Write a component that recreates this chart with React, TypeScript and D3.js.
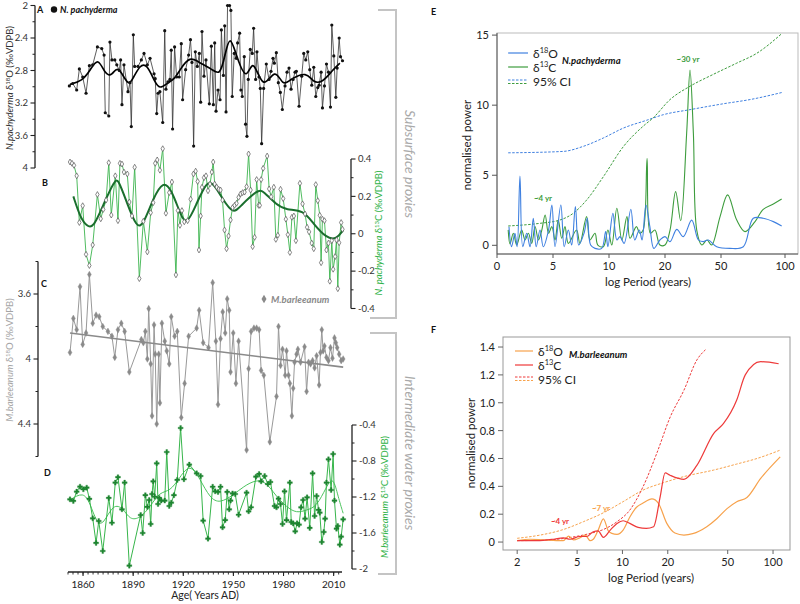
import * as d3 from "d3";

type Pt = [number, number];

// ---- left stack: time series (year, value) ----
const pachyO18: Pt[] = [
  [1851.8,2.99],[1853.8,2.96],[1856.2,3.04],[1857.8,2.78],[1859.8,2.88],[1861.8,3.08],[1863.8,2.74],[1865.8,2.73],[1868.6,2.51],[1871.2,2.53],
  [1872.6,2.61],[1873.3,3.32],[1875.4,3.36],[1876.1,2.45],[1877.3,2.67],[1879,2.67],[1880.2,2.73],[1881.7,2.8],[1882.5,2.67],[1883.3,3.22],
  [1884.5,2.73],[1886.9,3.06],[1888.1,2.95],[1888.9,3.49],[1890.1,2.36],[1890.9,2.75],[1892.9,2.75],[1894.9,2.67],[1896.5,2.59],[1898.5,2.73],
  [1900.1,2.65],[1902.5,2.84],[1903.2,2.9],[1904.1,3.33],[1904.9,3.08],[1906,3.06],[1907.7,3.44],[1908.9,2.31],[1909.6,3.03],[1910.8,2.94],
  [1912,2.91],[1912.8,2.55],[1913.6,3.52],[1914.8,2.51],[1916,2.88],[1917.6,2.88],[1918.8,2.47],[1919.6,3.16],[1921.4,2.79],[1923.2,2.61],
  [1924.3,2.42],[1925.2,2.7],[1926.2,3.73],[1927.2,2.57],[1928.4,2.75],[1929.6,2.59],[1930.4,3.19],[1931.2,2.32],[1932.4,2.87],[1933.6,2.67],
  [1935.6,3.21],[1936.8,2.5],[1938,3.22],[1938.8,2.46],[1939.6,3.3],[1940.8,3.04],[1942,3.16],[1942.8,2.3],[1944,2.86],[1944.8,2.25],
  [1945.6,3.31],[1946.5,2.0],[1947.7,2.0],[1948.5,2.06],[1949.3,3.12],[1950.5,2.59],[1951.7,2.65],[1952.5,2.46],[1953.7,2.34],[1954.5,3.04],
  [1955.3,3.12],[1956.5,2.63],[1957.3,3.46],[1958.1,3.61],[1958.9,2.91],[1960.1,2.54],[1961.3,2.59],[1962.1,2.28],[1963.3,2.91],[1964.1,2.57],
  [1965.3,2.88],[1966.1,3.02],[1966.9,3.7],[1968.1,3.02],[1969.7,2.72],[1971.3,2.91],[1972.5,2.81],[1973.7,2.65],[1974.5,2.71],[1975.7,2.58],
  [1976.9,2.95],[1978.1,3.07],[1979.3,3.28],[1980.9,2.99],[1982.1,2.82],[1983.3,2.77],[1984.5,3.03],[1985.7,2.91],[1986.9,2.82],[1987.7,2.81],
  [1989.3,3.24],[1990.9,2.87],[1992.1,2.59],[1993.3,2.67],[1994.5,2.57],[1995.7,2.79],[1996.9,2.98],[1998.1,2.76],[1999.3,3.12],[2000.5,3.01],
  [2001.3,2.98],[2002.5,2.82],[2003.3,3.26],[2004.5,2.99],[2005.7,2.72],[2006.9,2.82],[2008.1,3.25],[2008.9,2.24],[2010.1,2.62],[2011.3,3.13],
  [2012.1,2.77],[2013.3,2.4],[2014.1,2.63],[2015.3,2.68],
];
const pachyO18Smooth: Pt[] = [
  [1852.2,2.97],[1859.4,2.93],[1864.2,2.8],[1869,2.63],[1873.2,2.85],[1877.3,2.87],[1880.9,2.72],[1886.9,3.0],[1889.9,2.9],[1894.1,2.73],
  [1898.3,2.72],[1903.1,2.95],[1906,3.03],[1910.8,2.95],[1915,2.9],[1918,2.79],[1924,2.62],[1930,2.71],[1937.1,2.78],[1941.9,2.87],
  [1944.9,2.62],[1947.9,2.34],[1951.9,2.63],[1957.9,2.95],[1961.7,2.61],[1967.7,3.07],[1974.9,2.75],[1979.6,3.0],[1983.8,2.91],[1994,2.81],
  [1997.5,2.95],[2003.5,2.95],[2009.5,2.79],[2013.7,2.71],
];
const pachyC13: Pt[] = [
  [1852.2,0.384],[1853.4,0.377],[1854.6,0.366],[1856.2,0.31],[1857.8,0.06],[1859.8,0.15],[1861.8,-0.11],[1863.8,-0.17],[1865.8,-0.06],[1868.6,0.21],
  [1870.6,0.08],[1872.1,0.13],[1873.8,0.18],[1875.4,0.38],[1876.9,0.1],[1879.3,0.31],[1880.9,0.07],[1882.1,0.377],[1883.3,0.373],[1884.5,0.33],
  [1886.5,0.32],[1887.7,0.17],[1889.3,0.095],[1890.9,0.356],[1893.7,-0.24],[1896.1,0.067],[1898.5,-0.097],[1900.5,0.113],[1902,0.166],[1903.2,0.377],
  [1904.4,0.395],[1906,0.34],[1907.7,0.455],[1909.6,0.11],[1911.6,0.22],[1913.2,0.277],[1915.6,-0.22],[1916.8,0.124],[1918,0.045],[1919.2,0.124],
  [1920.6,0.064],[1922.6,0.07],[1924.4,0.185],[1926.1,0.32],[1927.4,0.335],[1928.6,0.28],[1929.4,-0.087],[1930.4,0.095],[1931.2,0.249],[1932.4,0.3],
  [1933.6,0.31],[1934.8,0.23],[1936,0.266],[1937.1,0.33],[1937.9,0.384],[1938.8,0.266],[1940,0.25],[1941.2,0.238],[1942.3,0.234],[1943.5,0.18],
  [1944.7,0.02],[1945.9,-0.08],[1947.1,-0.012],[1948.3,0.074],[1949.5,0.14],[1950.7,0.152],[1951.9,0.163],[1953.1,0.195],[1954.3,0.213],[1955.5,0.22],
  [1956.7,0.223],[1957.9,0.252],[1959.1,0.427],[1960.3,0.234],[1961.5,-0.069],[1962.7,-0.019],[1963.9,0.29],[1965.1,0.152],[1965.8,0.152],[1966.6,0.29],
  [1967.8,0.35],[1970.2,0.416],[1971.4,0.24],[1972.6,0.198],[1974.2,0.249],[1975.4,-0.03],[1976.6,-0.008],[1978.2,0.238],[1979.8,0.188],[1981.4,0.078],
  [1982.6,-0.005],[1983.8,-0.1],[1985,0.088],[1986.2,0.095],[1987.4,-0.037],[1989.8,0.27],[1991.4,0.16],[1992.9,0.106],[1994.1,0.035],[1995.3,0.01],
  [1996.9,-0.05],[1998.1,-0.08],[1999.3,0.263],[2000.5,0.177],[2001.7,0.099],[2002.5,-0.155],[2003.3,0.078],[2004.5,0.07],[2005.7,-0.087],[2006.9,-0.05],
  [2007.7,-0.254],[2008.9,-0.037],[2009.7,-0.19],[2010.9,-0.122],[2011.7,-0.033],[2012.5,-0.294],[2013.3,-0.048],[2014.5,0.06],[2015.3,0.024],
];
const pachyC13Smooth: Pt[] = [
  [1854.2,0.2],[1858.2,0.09],[1862.2,0.04],[1866.2,0.03],[1872.1,0.155],[1879.1,0.29],[1881.1,0.29],[1886.1,0.17],[1892.1,0.03],[1896.1,0.047],
  [1902,0.19],[1908,0.284],[1913,0.234],[1918,0.11],[1922,0.04],[1928,0.163],[1934,0.28],[1937.9,0.273],[1943.9,0.18],[1949.9,0.106],
  [1953.9,0.145],[1964.8,0.238],[1967.8,0.23],[1975.8,0.154],[1981.8,0.127],[1991.7,0.127],[1997.7,0.056],[2005.7,-0.024],[2011.7,-0.03],[2015.7,0.02],
];
const barlO18: Pt[] = [
  [1852.2,3.96],[1854.2,3.75],[1856.2,3.82],[1858.2,3.555],[1859.8,3.91],[1861.8,3.84],[1863.8,3.48],[1865.8,3.78],[1867.8,3.73],[1869.7,3.74],
  [1871.8,3.8],[1874.9,3.83],[1877.3,3.86],[1879,3.99],[1880.9,3.82],[1882.9,3.78],[1884.9,3.83],[1887.7,4.08],[1894.9,3.88],[1896.1,3.9],
  [1897.3,3.83],[1898.5,4.0],[1899.3,3.69],[1900.5,4.03],[1901.3,4.35],[1902.5,3.79],[1903.2,3.97],[1904.1,4.4],[1905.3,3.97],[1906,4.27],
  [1907.2,3.78],[1908.9,3.89],[1910.1,3.95],[1911.6,4.03],[1912.8,3.74],[1914.8,3.86],[1916.4,3.83],[1918.8,4.36],[1920.8,4.15],[1923.2,3.86],
  [1928,3.81],[1929.5,3.7],[1931.9,3.9],[1935.1,3.93],[1937.6,3.53],[1939.5,3.89],[1940.8,4.28],[1942.3,3.875],[1943.6,3.71],[1945.1,3.84],
  [1946.3,3.63],[1947.5,3.7],[1948.3,4.08],[1949.9,3.84],[1951.5,4.15],[1953.1,3.89],[1957.9,4.56],[1959.1,4.06],[1960.6,3.83],[1962.3,3.81],
  [1963.9,3.81],[1965.4,3.82],[1966.6,4.07],[1968.2,4.1],[1971.8,4.51],[1975.8,4.23],[1977,3.8],[1978.2,4.04],[1979.4,3.94],[1981,4.1],
  [1981.8,3.95],[1983,4.1],[1983.8,4.15],[1985,4.35],[1985.8,4.18],[1986.6,4.02],[1987.8,3.97],[1988.6,3.94],[1990.2,4.02],[1992.6,3.925],
  [1993.8,4.2],[1995,4.02],[1996.2,4.03],[1997.4,4.01],[1998.6,4.055],[1999.8,3.98],[2001.3,4.16],[2002.1,3.96],[2002.9,3.82],[2003.7,3.95],
  [2004.5,3.92],[2005.7,3.99],[2006.9,4.01],[2008.1,3.93],[2009.3,3.995],[2010.5,3.87],[2011.3,3.9],[2012.1,3.93],[2013.3,3.97],[2014.5,4.01],
  [2015.7,4.0],
];
const barlO18Trend: Pt[] = [[1852.2,3.84],[2015.7,4.05]];
const barlC13: Pt[] = [
  [1852.2,-1.226],[1854.2,-1.244],[1856.2,-1.14],[1858.2,-1.085],[1860.2,-1.114],[1862.2,-1.096],[1863.8,-1.22],[1865.8,-1.437],[1867.8,-1.71],[1869.4,-1.467],
  [1871.8,-1.8],[1875.4,-1.21],[1877.3,-1.486],[1879.3,-1.04],[1880.9,-0.98],[1883.3,-1.337],[1884.9,-1.04],[1887.7,-1.963],[1894.5,-1.4],[1895.7,-1.6],
  [1897.3,-1.18],[1898.5,-1.31],[1899.6,-1.233],[1900.5,-1.5],[1901.3,-1.167],[1902,-1.026],[1902.9,-1.197],[1904.1,-0.826],[1904.9,-1.278],[1905.6,-1.21],
  [1906.8,-1.24],[1908.9,-1.24],[1910.1,-0.7],[1911.6,-1.3],[1912.8,-1.263],[1914.4,-1.18],[1916.4,-1.01],[1918.4,-0.433],[1920.4,-1.003],[1923.6,-0.84],
  [1928,-0.937],[1930.4,-0.967],[1931.9,-1.463],[1934.8,-1.663],[1937.6,-1.086],[1939.1,-1.137],[1940.8,-1.144],[1942.3,-1.086],[1943.5,-1.537],[1945.1,-1.456],
  [1946.3,-1.144],[1947.5,-1.337],[1948.3,-1.24],[1949.5,-1.16],[1951.1,-1.167],[1953.1,-1.397],[1957.9,-1.152],[1959.1,-1.359],[1960.6,-1.314],[1963.5,-0.974],
  [1965.4,-0.944],[1966.6,-1.026],[1968.7,-0.967],[1970.6,-1.056],[1972.2,-1.033],[1974.6,-1.3],[1975.8,-1.315],[1977,-1.219],[1978.2,-1.278],[1979.4,-1.5],
  [1980.6,-1.137],[1981.8,-1.456],[1983.8,-1.04],[1984.6,-1.478],[1985.8,-1.493],[1987,-1.581],[1988.1,-1.493],[1989.3,-1.507],[1990.5,-1.315],[1991.7,-1.233],
  [1992.9,-1.441],[1994.1,-1.204],[1995.7,-1.544],[1997.4,-0.937],[1998.6,-1.411],[1999.8,-1.189],[2001,-1.344],[2001.7,-1.374],[2002.9,-1.7],[2004.1,-1.589],
  [2004.9,-1.441],[2005.7,-1.04],[2006.9,-0.781],[2008.5,-1.122],[2009.7,-0.722],[2010.5,-1.24],[2011.7,-1.552],[2012.5,-1.522],[2013.7,-1.73],[2014.5,-1.641],
  [2015.7,-1.448],
];
const barlC13Smooth: Pt[] = [
  [1852.2,-1.233],[1860.2,-1.14],[1864.2,-1.27],[1868.2,-1.49],[1872.1,-1.51],[1878.1,-1.27],[1884.1,-1.326],[1888.1,-1.456],[1894.1,-1.437],[1900.1,-1.31],
  [1906,-1.14],[1912,-1.14],[1918,-0.98],[1924,-0.826],[1930,-1.0],[1936,-1.215],[1941.9,-1.27],[1949.9,-1.178],[1955.9,-1.085],[1963.9,-1.003],
  [1969.9,-1.04],[1975.8,-1.197],[1981.8,-1.31],[1987.8,-1.381],[1993.8,-1.344],[1999.8,-1.31],[2005.7,-1.085],[2009.7,-0.967],[2012.7,-1.2],[2015.7,-1.381],
];

// ---- right panels: spectra (period, power) ----
const ePachyO18: Pt[] = [
  [1.07,1.33],[1.3,-0.1],[1.6,0.86],[1.8,-0.1],[2.05,4.95],[2.3,-0.1],[2.65,0.86],[2.95,-0.1],[3.24,1.93],[3.5,-0.1],
  [3.84,1.09],[4.13,-0.1],[4.6,1.09],[4.9,2.88],[5.18,-0.1],[5.7,2.88],[6.0,-0.1],[6.37,1.09],[6.67,0.02],[7.0,2.76],
  [7.3,0.02],[7.77,0.86],[8.06,1.93],[8.36,0.02],[8.75,-0.22],[9.35,-0.22],[9.7,0.98],[9.9,-0.1],[10.7,2.28],[11.4,0.38],
  [11.96,0.62],[12.7,0.14],[13.9,2.57],[14.6,0.38],[15.4,1.09],[15.9,0.38],[16.6,2.88],[17.3,1.33],[18.0,-0.22],[19.1,0.38],
  [20,0.62],[22.7,0.26],[26.3,1.14],[29.8,0.62],[34.3,1.8],[37.9,0.38],[40.5,0.26],[43.2,0.38],[47.7,-0.1],[57,-0.22],
  [67.4,-0.1],[75.2,1.93],[83,1.93],[90.9,1.69],[97.4,1.38],
];
const ePachyC13: Pt[] = [
  [1.0,1.1],[1.16,0.1],[1.46,0.86],[1.76,0.02],[2.2,1.09],[2.5,0.38],[2.8,0.86],[3.1,0.14],[3.4,1.33],[3.7,0.38],
  [4.0,1.09],[4.3,2.16],[4.6,0.86],[4.9,1.33],[5.18,0.38],[5.47,1.8],[5.78,0.5],[6.07,1.33],[6.37,0.14],[7.1,1.09],
  [7.4,0.14],[8.0,2.05],[8.3,0.38],[8.75,0.86],[9.0,0.02],[9.5,-0.1],[9.9,1.09],[10.5,0.02],[11.4,2.64],[12.3,0.38],
  [13.2,2.05],[13.75,0.5],[14.9,1.33],[15.5,0.86],[16.1,1.09],[16.8,6.2],[17.4,0.86],[18.2,1.09],[19.1,0.02],[20,0.02],
  [22.7,1.09],[25.7,3.83],[28.4,1.75],[31.6,8.0],[33.4,12.5],[35.2,8.0],[37,1.09],[39.7,0.02],[42.5,0.38],[45,0.02],
  [49.5,2.05],[55.2,3.6],[62.3,1.8],[68.8,0.98],[76.6,1.69],[83,2.57],[90.9,2.95],[97.4,3.3],
];
const ePachyO18CI: Pt[] = [
  [1.0,6.6],[5.9,6.7],[7.7,7.06],[9.5,7.66],[12.6,8.37],[16.7,8.92],[19.7,9.32],[33.4,9.68],[51.8,10.1],[72.7,10.4],[97.4,10.9],
];
const ePachyC13CI: Pt[] = [
  [1.0,1.38],[3.84,1.57],[5.6,1.8],[6.8,2.28],[8.0,3.23],[9.5,4.9],[12.6,7.06],[16.1,8.5],[17.9,9.1],[22.7,10.4],
  [33.4,11.35],[45.9,12.2],[62.3,13.0],[77.9,13.7],[97.4,15.1],
];
const fBarlO18: Pt[] = [
  [2.0,0.01],[2.44,0.02],[2.99,0.015],[3.66,0.01],[4.05,0.01],[4.38,0.043],[4.74,0.015],[5.2,0.03],[5.66,0.05],[6.1,0.01],
  [6.4,0.02],[6.9,0.086],[7.47,0.167],[8.06,0.08],[8.5,0.062],[9.2,0.055],[10.1,0.086],[11.2,0.18],[12.4,0.25],[13.7,0.28],
  [15.7,0.31],[17.3,0.28],[19.7,0.134],[22.3,0.065],[25.6,0.05],[29.3,0.06],[36.3,0.11],[42.3,0.167],[49.5,0.24],[57.4,0.29],
  [67.1,0.32],[82.8,0.457],[111.6,0.612],
];
const fBarlC13: Pt[] = [
  [2.0,0.01],[2.7,0.01],[3.48,0.02],[4.05,0.03],[4.5,0.02],[5.2,0.04],[5.78,0.04],[6.4,0.074],[6.9,0.08],[7.47,0.034],
  [8.3,0.086],[9.2,0.134],[10.1,0.153],[11.2,0.134],[12.7,0.105],[14.4,0.098],[16.1,0.11],[17.8,0.325],[19.2,0.497],[20.7,0.48],
  [25.6,0.45],[31.2,0.55],[40.4,0.78],[46.8,0.85],[57.4,1.02],[65.4,1.2],[82.8,1.295],[109,1.28],
];
const fBarlC13CI: Pt[] = [
  [2.0,0.01],[3.2,0.015],[4.5,0.033],[6.1,0.062],[7.47,0.09],[9.2,0.146],[11.2,0.23],[13.7,0.397],[16.9,0.637],[20.8,0.9],
  [25.6,1.09],[31.2,1.307],[35.8,1.383],
];
const fBarlO18CI: Pt[] = [
  [2.0,0.027],[2.84,0.05],[4.05,0.09],[5.5,0.146],[7.47,0.21],[10.1,0.29],[13.7,0.373],[18.7,0.426],[25.6,0.47],[40.4,0.517],
  [57.4,0.56],[78.3,0.6],[111.6,0.66],
];

// ticks
const yearTicks = [1860, 1890, 1920, 1950, 1980, 2010];
const aTicks = [2, 2.4, 2.8, 3.2, 3.6, 4];
const aMinor = [2.2, 2.6, 3.0, 3.4, 3.8];
const bTicks = [0.4, 0.2, 0, -0.2, -0.4];
const bMinor = [0.3, 0.1, -0.1, -0.3];
const cTicks = [3.6, 4, 4.4];
const cMinor = [3.4, 3.8, 4.2, 4.6];
const dTicks = [-0.4, -0.8, -1.2, -1.6, -2];
const dMinor = [-0.6, -1, -1.4, -1.8];
const eXTicks = [0, 5, 10, 20, 50, 100];
const eYTicks = [0, 5, 10, 15];
const fXTicks = [2, 5, 10, 20, 50, 100];
const fYTicks = [0, 0.2, 0.4, 0.6, 0.8, 1.0, 1.2, 1.4];

// scales
const xYear = d3.scaleLinear().domain([1851, 2015]).range([68, 342]);
const yA = d3.scaleLinear().domain([2, 4]).range([5.5, 168]);
const yB = d3.scaleLinear().domain([0.4, -0.4]).range([159, 308.5]);
const yC = d3.scaleLinear().domain([3.4, 4.6]).range([261.5, 456.5]);
const yD = d3.scaleLinear().domain([-0.4, -2]).range([425, 569]);

const eX = d3.scaleLinear().domain([0, 5, 10, 20, 50, 100]).range([497, 553, 609, 665, 721, 785]);
const eY = d3.scaleLinear().domain([-0.62, 15.15]).range([254, 33]);
const fX = d3.scaleLog().domain([1.61, 129.6]).range([503, 790]);
const fY = d3.scaleLinear().domain([-0.057, 1.472]).range([550, 337]);

const FONT = "Lato, 'Open Sans', sans-serif";

const C = {
  blue: "#3f80e0",
  egreen: "#3d9c3d",
  orange: "#f7a24c",
  red: "#ee3a3a",
  bline: "#3cb44e",
  bsmooth: "#1a6e2d",
  dline: "#37b54b",
  dmark: "#1e8531",
  gray: "#999",
};

function lineOf(xs: any, ys: any, curve: any = d3.curveLinear) {
  return d3.line<Pt>().x((d) => xs(d[0])).y((d) => ys(d[1])).curve(curve);
}

function VAxis({ scale, x, side, ticks, minor, color = "#222", labelColor = "#333" }: any) {
  const dir = side === "left" ? -1 : 1;
  const [r0, r1] = scale.range();
  return (
    <g>
      <line x1={x} x2={x} y1={r0} y2={r1} stroke={color} strokeWidth={1.3} />
      {ticks.map((t: number) => (
        <g key={"M" + t}>
          <line x1={x} x2={x + dir * 4.5} y1={scale(t)} y2={scale(t)} stroke={color} strokeWidth={1.1} />
          <text x={x + dir * 7} y={scale(t) + 3.3} fontSize={9.5} fill={labelColor}
            textAnchor={side === "left" ? "end" : "start"}>{String(t)}</text>
        </g>
      ))}
      {minor.map((t: number) => (
        <line key={"m" + t} x1={x} x2={x + dir * 2.5} y1={scale(t)} y2={scale(t)} stroke={color} strokeWidth={1} />
      ))}
    </g>
  );
}

function Markers({ data, xs, ys, type, size, fill, stroke, sw = 0.7 }: any) {
  const path = d3.symbol().type(type).size(size)() as string;
  return (
    <g>
      {data.map((d: Pt, i: number) => (
        <path key={i} d={path} transform={`translate(${xs(d[0])},${ys(d[1])})`} fill={fill} stroke={stroke} strokeWidth={sw} />
      ))}
    </g>
  );
}

function Iso({ x, y, sup, el, fill = "#222", size = 12 }: any) {
  return (
    <text x={x} y={y} fontSize={size} fill={fill}>
      δ<tspan dy={-size * 0.4} fontSize={size * 0.62}>{sup}</tspan>
      <tspan dy={size * 0.4}>{el}</tspan>
    </text>
  );
}

export default function App() {
  const minorYears = d3.range(1851, 2016, 3);
  return (
    <svg width={800} height={604} viewBox="0 0 800 604"
      style={{ position: "absolute", left: 0, top: 0, background: "#fff", fontFamily: FONT }}>
      <defs>
        <clipPath id="clipE"><rect x={497} y={33} width={301} height={221} /></clipPath>
        <clipPath id="clipF"><rect x={503} y={337} width={287} height={213} /></clipPath>
      </defs>

      {/* brackets */}
      <path d="M378,10 H396 V318 H370" fill="none" stroke="#c4c4c4" strokeWidth={2} />
      <path d="M370,333 H396 V574 H378" fill="none" stroke="#c4c4c4" strokeWidth={2} />
      <text transform="translate(405,164) rotate(90)" textAnchor="middle" fontSize={14} fontStyle="italic" fill="#a9a9a9">Subsurface proxies</text>
      <text transform="translate(405,453) rotate(90)" textAnchor="middle" fontSize={14} fontStyle="italic" fill="#a9a9a9">Intermediate water proxies</text>

      {/* Panel C (behind) */}
      <path d={lineOf(xYear, yC)(barlO18) as string} fill="none" stroke={C.gray} strokeWidth={1} />
      <path d={lineOf(xYear, yC)(barlO18Trend) as string} fill="none" stroke="#8a8a8a" strokeWidth={1.6} />
      <Markers data={barlO18} xs={xYear} ys={yC} type={d3.symbolDiamond} size={13} fill="#8a8a8a" stroke="#8a8a8a" sw={0.4} />

      {/* Panel D */}
      <path d={lineOf(xYear, yD, d3.curveBasis)(barlC13Smooth) as string} fill="none" stroke="#4cc45e" strokeWidth={1} />
      <path d={lineOf(xYear, yD)(barlC13) as string} fill="none" stroke={C.dline} strokeWidth={1} />
      <Markers data={barlC13} xs={xYear} ys={yD} type={d3.symbolCross} size={14} fill={C.dmark} stroke={C.dmark} sw={0.3} />

      {/* Panel B */}
      <path d={lineOf(xYear, yB)(pachyC13) as string} fill="none" stroke={C.bline} strokeWidth={0.9} />
      <path d={lineOf(xYear, yB, d3.curveBasis)(pachyC13Smooth) as string} fill="none" stroke={C.bsmooth} strokeWidth={2} />
      <Markers data={pachyC13} xs={xYear} ys={yB} type={d3.symbolDiamond} size={10} fill="#fff" stroke="#555" sw={0.7} />

      {/* Panel A */}
      <path d={lineOf(xYear, yA)(pachyO18) as string} fill="none" stroke="#333" strokeWidth={0.8} />
      <path d={lineOf(xYear, yA, d3.curveBasis)(pachyO18Smooth) as string} fill="none" stroke="#000" strokeWidth={1.7} />
      {pachyO18.map((d, i) => (
        <circle key={i} cx={xYear(d[0])} cy={yA(d[1])} r={1.6} fill="#111" />
      ))}

      {/* left-stack axes */}
      <VAxis scale={yA} x={35} side="left" ticks={aTicks} minor={aMinor} />
      <VAxis scale={yB} x={351} side="right" ticks={bTicks} minor={bMinor} />
      <VAxis scale={yC} x={38} side="left" ticks={cTicks} minor={cMinor} />
      <VAxis scale={yD} x={352} side="right" ticks={dTicks} minor={dMinor} />

      {/* time axis */}
      <line x1={68} x2={342} y1={572} y2={572} stroke="#222" strokeWidth={1.3} />
      {minorYears.map((t) => (
        <line key={t} x1={xYear(t)} x2={xYear(t)} y1={572} y2={574.5} stroke="#222" strokeWidth={0.9} />
      ))}
      {yearTicks.map((t) => (
        <g key={t}>
          <line x1={xYear(t)} x2={xYear(t)} y1={572} y2={576} stroke="#222" strokeWidth={1.1} />
          <text x={xYear(t)} y={588} fontSize={10} textAnchor="middle" fill="#222">{t}</text>
        </g>
      ))}
      <text x={205} y={599} fontSize={10.5} textAnchor="middle" fill="#222">Age( Years AD)</text>

      {/* left-stack labels */}
      <text x={37} y={13} fontSize={9} fontWeight="bold" fill="#111">A</text>
      <circle cx={54} cy={9.5} r={3.2} fill="#111" />
      <text x={60} y={13} fontSize={9} fontWeight="bold" fontStyle="italic" fill="#111">N. pachyderma</text>
      <text x={42} y={186} fontSize={9} fontWeight="bold" fill="#111">B</text>
      <text x={41} y={287} fontSize={9} fontWeight="bold" fill="#111">C</text>
      <text x={44} y={476} fontSize={9} fontWeight="bold" fill="#111">D</text>
      <path d={d3.symbol().type(d3.symbolDiamond).size(22)() as string} transform="translate(264,299)" fill="#8a8a8a" />
      <text x={271} y={302.5} fontSize={9.5} fontWeight="bold" fontStyle="italic" fill="#8a8a8a">M.barleeanum</text>

      <text transform="translate(13,88) rotate(-90)" textAnchor="middle" fontSize={9.5} fill="#333">
        <tspan fontStyle="italic">N.pachyderma</tspan> δ<tspan dy={-3.5} fontSize={6}>18</tspan><tspan dy={3.5}>O (‰VDPB)</tspan>
      </text>
      <text transform="translate(13,360) rotate(-90)" textAnchor="middle" fontSize={9.5} fill="#a5a5a5">
        <tspan fontStyle="italic">M.barleeanum</tspan> δ<tspan dy={-3.5} fontSize={6}>18</tspan><tspan dy={3.5}>O (‰VDPB)</tspan>
      </text>
      <text transform="translate(382,233) rotate(-90)" textAnchor="middle" fontSize={9.5} fill="#2fb247">
        <tspan fontStyle="italic">N. pachyderma</tspan> δ<tspan dy={-3.5} fontSize={6}>13</tspan><tspan dy={3.5}>C (‰VDPB)</tspan>
      </text>
      <text transform="translate(388,497) rotate(-90)" textAnchor="middle" fontSize={9.5} fill="#2fb247">
        <tspan fontStyle="italic">M.barleeanum</tspan> δ<tspan dy={-3.5} fontSize={6}>13</tspan><tspan dy={3.5}>C (‰VDPB)</tspan>
      </text>

      {/* ---------- Panel E ---------- */}
      <text x={431} y={15} fontSize={9} fontWeight="bold" fill="#111">E</text>
      <rect x={497} y={33} width={301} height={221} fill="none" stroke="#bbb" strokeWidth={1} />
      <g clipPath="url(#clipE)">
        <path d={lineOf(eX, eY, d3.curveMonotoneX)(ePachyO18CI) as string} fill="none" stroke={C.blue} strokeWidth={1} strokeDasharray="2.5,1.5" />
        <path d={lineOf(eX, eY, d3.curveMonotoneX)(ePachyC13CI) as string} fill="none" stroke={C.egreen} strokeWidth={1} strokeDasharray="2.5,1.5" />
        <path d={lineOf(eX, eY, d3.curveCatmullRom)(ePachyC13) as string} fill="none" stroke={C.egreen} strokeWidth={1.1} />
        <path d={lineOf(eX, eY, d3.curveCatmullRom)(ePachyO18) as string} fill="none" stroke={C.blue} strokeWidth={1.1} />
      </g>
      <line x1={497} x2={497} y1={33} y2={254} stroke="#555" strokeWidth={1} />
      <line x1={497} x2={798} y1={254} y2={254} stroke="#555" strokeWidth={1} />
      {eYTicks.map((t) => (
        <g key={t}>
          <line x1={497} x2={492} y1={eY(t)} y2={eY(t)} stroke="#555" />
          <text x={489} y={eY(t) + 4} fontSize={11} textAnchor="end" fill="#222">{t}</text>
        </g>
      ))}
      {eXTicks.map((t) => (
        <g key={t}>
          <line x1={eX(t)} x2={eX(t)} y1={254} y2={258} stroke="#555" />
          <text x={eX(t)} y={270} fontSize={11} textAnchor="middle" fill="#222">{t}</text>
        </g>
      ))}
      <text transform="translate(471,145) rotate(-90)" textAnchor="middle" fontSize={11.5} fill="#222">normalised power</text>
      <text x={648} y={286} fontSize={11.5} textAnchor="middle" fill="#222">log Period (years)</text>
      <line x1={508} x2={528} y1={53} y2={53} stroke={C.blue} strokeWidth={1.2} />
      <line x1={508} x2={528} y1={67} y2={67} stroke={C.egreen} strokeWidth={1.2} />
      <line x1={508} x2={528} y1={80} y2={80} stroke={C.blue} strokeDasharray="2.5,1.5" />
      <line x1={508} x2={528} y1={83.5} y2={83.5} stroke={C.egreen} strokeDasharray="2.5,1.5" />
      <Iso x={533} y={58} sup="18" el="O" />
      <Iso x={533} y={72} sup="13" el="C" />
      <text x={533} y={86} fontSize={12} fill="#222">95% CI</text>
      <text x={562} y={64} fontSize={9.5} fontWeight="bold" fontStyle="italic" fill="#111">N.pachyderma</text>
      <text x={688} y={62} fontSize={8} fontWeight="bold" textAnchor="middle" fill={C.egreen}>~30 yr</text>
      <text x={543} y={201} fontSize={8} fontWeight="bold" textAnchor="middle" fill={C.egreen}>~4 yr</text>

      {/* ---------- Panel F ---------- */}
      <text x={431} y={333} fontSize={9} fontWeight="bold" fill="#111">F</text>
      <rect x={503} y={337} width={287} height={213} fill="none" stroke="#999" strokeWidth={1} />
      <g clipPath="url(#clipF)">
        <path d={lineOf(fX, fY, d3.curveMonotoneX)(fBarlO18CI) as string} fill="none" stroke={C.orange} strokeWidth={1} strokeDasharray="2.5,1.5" />
        <path d={lineOf(fX, fY, d3.curveMonotoneX)(fBarlC13CI) as string} fill="none" stroke={C.red} strokeWidth={1} strokeDasharray="2.5,1.5" />
        <path d={lineOf(fX, fY, d3.curveMonotoneX)(fBarlO18) as string} fill="none" stroke={C.orange} strokeWidth={1.2} />
        <path d={lineOf(fX, fY, d3.curveMonotoneX)(fBarlC13) as string} fill="none" stroke={C.red} strokeWidth={1.2} />
      </g>
      {fYTicks.map((t) => (
        <g key={t}>
          <line x1={503} x2={498} y1={fY(t)} y2={fY(t)} stroke="#666" />
          <text x={495} y={fY(t) + 4} fontSize={11} textAnchor="end" fill="#222">{t === 0 ? "0" : t.toFixed(1)}</text>
        </g>
      ))}
      {fXTicks.map((t) => (
        <g key={t}>
          <line x1={fX(t)} x2={fX(t)} y1={550} y2={554} stroke="#666" />
          <text x={fX(t)} y={566} fontSize={11} textAnchor="middle" fill="#222">{t}</text>
        </g>
      ))}
      <text transform="translate(475,443) rotate(-90)" textAnchor="middle" fontSize={11.5} fill="#222">normalised power</text>
      <text x={651} y={582} fontSize={11.5} textAnchor="middle" fill="#222">log Period (years)</text>
      <line x1={515} x2={533} y1={351} y2={351} stroke={C.orange} strokeWidth={1.2} />
      <line x1={515} x2={533} y1={365} y2={365} stroke={C.red} strokeWidth={1.2} />
      <line x1={515} x2={533} y1={377} y2={377} stroke={C.red} strokeDasharray="2.5,1.5" />
      <line x1={515} x2={533} y1={380.5} y2={380.5} stroke={C.orange} strokeDasharray="2.5,1.5" />
      <Iso x={538} y={356} sup="18" el="O" />
      <Iso x={538} y={370} sup="13" el="C" />
      <text x={538} y={384} fontSize={12} fill="#222">95% CI</text>
      <text x={569} y={358} fontSize={9.5} fontWeight="bold" fontStyle="italic" fill="#111">M.barleeanum</text>
      <text x={601} y={511} fontSize={8} fontWeight="bold" textAnchor="middle" fill={C.orange}>~7 yr</text>
      <text x={560} y={524} fontSize={8} fontWeight="bold" textAnchor="middle" fill={C.red}>~4 yr</text>
    </svg>
  );
}
